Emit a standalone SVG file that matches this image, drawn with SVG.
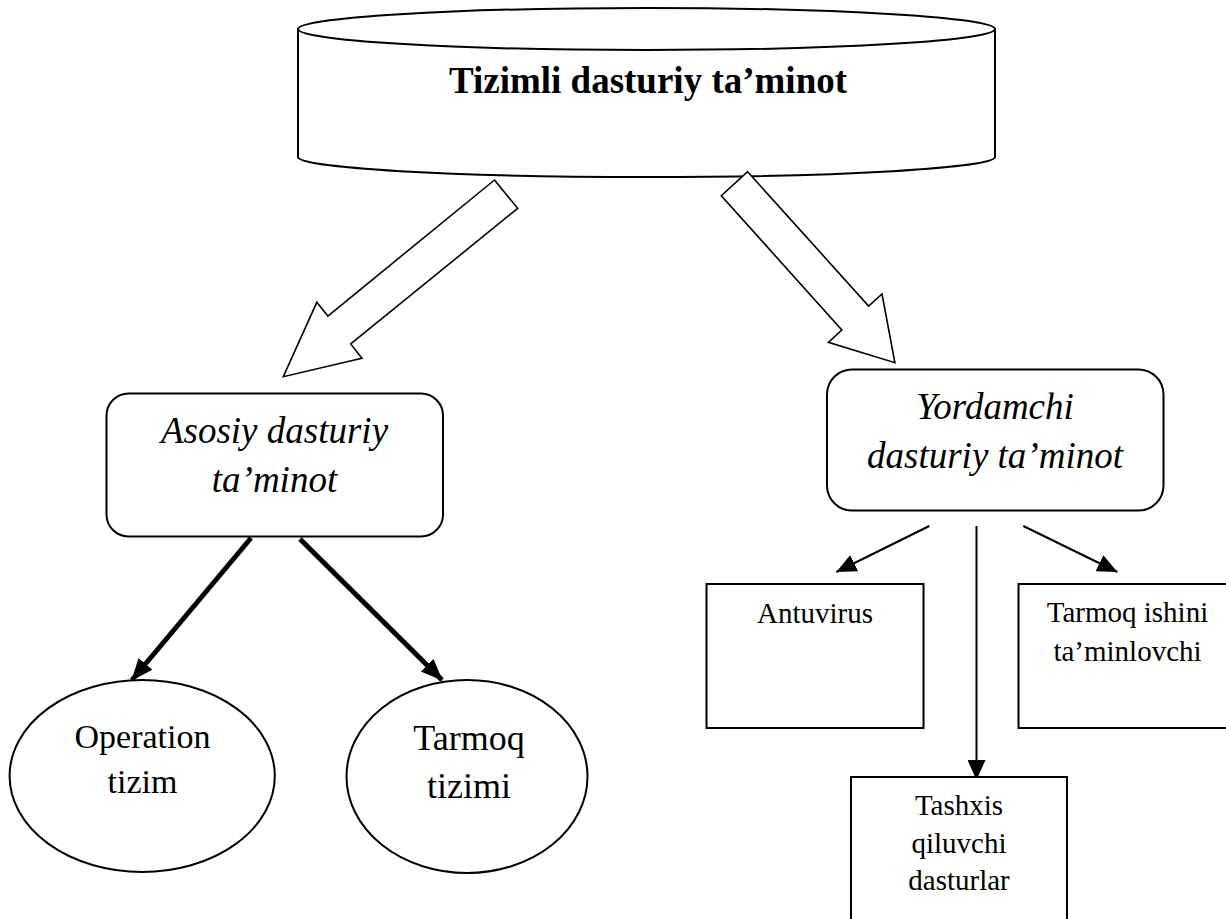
<svg xmlns="http://www.w3.org/2000/svg" width="1226" height="919" viewBox="0 0 1226 919">
<style>
.shape{fill:#fff;stroke:#000;stroke-width:2}
.block{fill:#fff;stroke:#000;stroke-width:1.6;stroke-linejoin:miter}
.serif{font-family:"Liberation Serif","Times New Roman",serif;fill:#000;text-anchor:middle}
.title{font-size:37px;font-weight:bold}
.ital{font-size:37px;font-style:italic}
.small{font-size:29px}
.thick{stroke:#000;stroke-width:5;fill:none}
.thin{stroke:#000;stroke-width:2;fill:none}
</style>
<defs>
<marker id="headThick" markerUnits="userSpaceOnUse" markerWidth="22" markerHeight="20" viewBox="0 0 22 20" refX="21" refY="10" orient="auto">
<path d="M0,1 L22,10 L0,19 Z" fill="#000"/>
</marker>
<marker id="headThin" markerUnits="userSpaceOnUse" markerWidth="20" markerHeight="18" viewBox="0 0 20 18" refX="20" refY="9" orient="auto">
<path d="M0,0 L20,9 L0,18 Z" fill="#000"/>
</marker>
</defs>
<rect width="1226" height="919" fill="#fff"/>

<g id="node-tizimli">
<path class="shape" d="M298,29 V157 A348.5,20 0 0 0 995,157 V29 Z"/>
<ellipse class="shape" cx="646.5" cy="29" rx="348.5" ry="21"/>
<text class="serif title" x="648" y="93">Tizimli dasturiy ta’minot</text>
</g>

<g id="connectors">
<polygon class="block" points="494.5,180 517.7,208.3 350.7,344 361.9,358.3 283.3,376.7 316.8,302.3 327.9,316"/>
<polygon class="block" points="747.6,171.7 868.6,306 882,294 894.9,362.7 828.4,342.3 841.8,330 721.3,195.7"/>
<line class="thick" x1="251" y1="538" x2="132" y2="680" marker-end="url(#headThick)"/>
<line class="thick" x1="300" y1="539" x2="442" y2="680" marker-end="url(#headThick)"/>
<line class="thin" x1="929.3" y1="526" x2="836.3" y2="572" marker-end="url(#headThin)"/>
<line class="thin" x1="976.5" y1="526" x2="976.5" y2="780" marker-end="url(#headThin)"/>
<line class="thin" x1="1023.3" y1="526" x2="1117.4" y2="572" marker-end="url(#headThin)"/>
</g>

<g id="node-asosiy">
<rect class="shape" x="106.5" y="393.5" width="336.5" height="143" rx="22" ry="22"/>
<text class="serif ital" x="274.5" y="443">Asosiy dasturiy</text>
<text class="serif ital" x="274.5" y="492">ta’minot</text>
</g>

<g id="node-yordamchi">
<rect class="shape" x="827" y="369.5" width="336.5" height="141" rx="25" ry="25"/>
<text class="serif ital" x="995" y="419">Yordamchi</text>
<text class="serif ital" x="995" y="468">dasturiy ta’minot</text>
</g>

<g id="node-operation">
<ellipse class="shape" cx="142.2" cy="776" rx="132.6" ry="96"/>
<text class="serif" style="font-size:34px" x="142.5" y="748">Operation</text>
<text class="serif" style="font-size:34px" x="142.5" y="793">tizim</text>
</g>

<g id="node-tarmoq-tizimi">
<ellipse class="shape" cx="467" cy="776.5" rx="120.5" ry="96.5"/>
<text class="serif" style="font-size:36px" x="469" y="750">Tarmoq</text>
<text class="serif" style="font-size:36px" x="469" y="798">tizimi</text>
</g>

<g id="node-antuvirus">
<rect class="shape" x="706.5" y="584" width="217" height="144"/>
<text class="serif small" x="815" y="623">Antuvirus</text>
</g>

<g id="node-tarmoq-ishini">
<rect class="shape" x="1018.5" y="584" width="220" height="144"/>
<text class="serif small" x="1127.5" y="622">Tarmoq ishini</text>
<text class="serif small" x="1127.5" y="661">ta’minlovchi</text>
</g>

<g id="node-tashxis">
<rect class="shape" x="851" y="777" width="216" height="160"/>
<text class="serif small" x="959" y="815">Tashxis</text>
<text class="serif small" x="959" y="853">qiluvchi</text>
<text class="serif small" x="959" y="890">dasturlar</text>
</g>
</svg>
